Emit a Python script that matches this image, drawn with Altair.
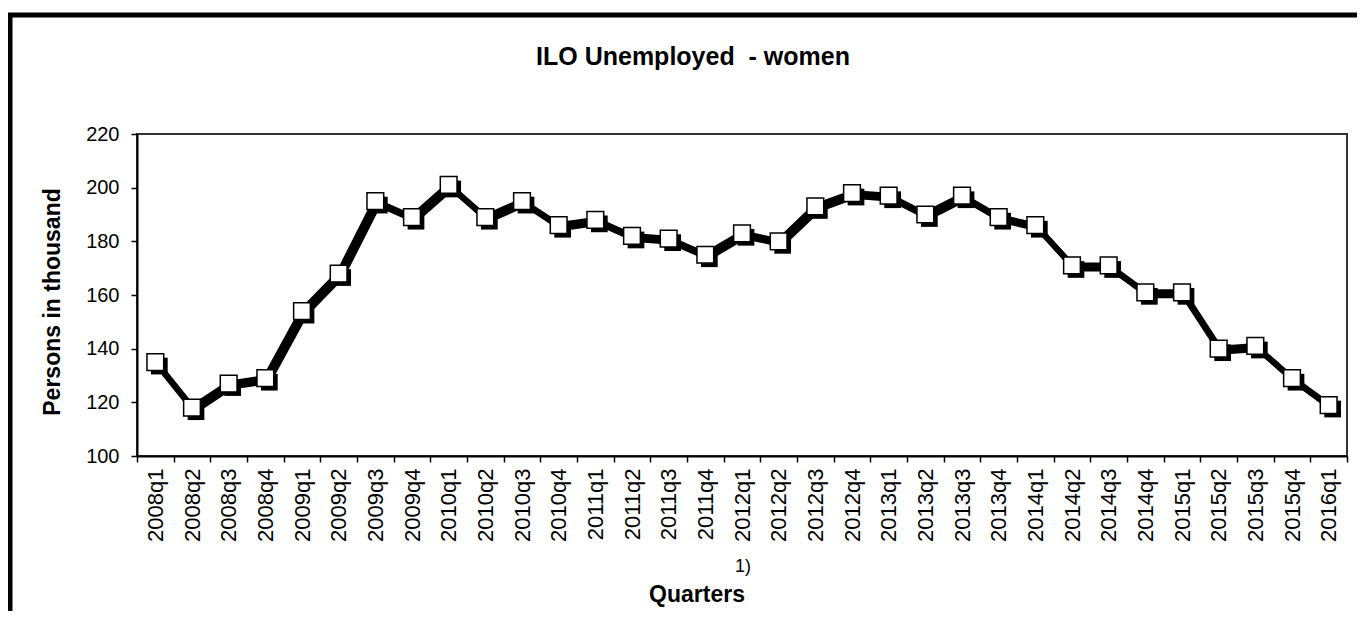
import altair as alt
import pandas as pd

quarters = [
    "2008q1", "2008q2", "2008q3", "2008q4",
    "2009q1", "2009q2", "2009q3", "2009q4",
    "2010q1", "2010q2", "2010q3", "2010q4",
    "2011q1", "2011q2", "2011q3", "2011q4",
    "2012q1", "2012q2", "2012q3", "2012q4",
    "2013q1", "2013q2", "2013q3", "2013q4",
    "2014q1", "2014q2", "2014q3", "2014q4",
    "2015q1", "2015q2", "2015q3", "2015q4",
    "2016q1",
]
unemployed = [
    135, 118, 127, 129,
    154, 168, 195, 189,
    201, 189, 195, 186,
    188, 182, 181, 175,
    183, 180, 193, 198,
    197, 190, 197, 189,
    186, 171, 171, 161,
    161, 140, 141, 129,
    119,
]
y_ticks = [100, 120, 140, 160, 180, 200, 220]

title_text = "ILO Unemployed\u00a0 - women"
y_title = "Persons in thousand"
x_title = "Quarters"
footnote = "1)"

df = pd.DataFrame({"quarter": quarters, "value": unemployed})

FONT = "Liberation Sans"
W, H = 1210, 322

x_enc = alt.X(
    "quarter:N",
    sort=quarters,
    scale=alt.Scale(type="band", paddingInner=0, paddingOuter=0),
    axis=alt.Axis(
        title=None,
        tickBand="extent",
        labelAngle=270,
        labelFont=FONT,
        labelFontSize=22,
        labelColor="black",
        labelPadding=6,
        tickSize=6,
        tickColor="black",
        tickWidth=1.5,
        domainColor="black",
        domainWidth=2,
        grid=False,
    ),
)
y_enc = alt.Y(
    "value:Q",
    scale=alt.Scale(domain=[100, 220], nice=False, zero=False),
    axis=alt.Axis(
        title=None,
        values=y_ticks,
        labelFont=FONT,
        labelFontSize=20,
        labelColor="black",
        labelPadding=12,
        tickSize=6,
        tickColor="black",
        tickWidth=1.5,
        domainColor="black",
        domainWidth=2,
        grid=False,
    ),
)

base = alt.Chart(df).encode(x=x_enc, y=y_enc)

line_shadow = base.mark_line(color="black", strokeWidth=6, xOffset=3, yOffset=3)
line_main = base.mark_line(color="black", strokeWidth=6)
sq_shadow = base.mark_square(size=280, color="black", filled=True, opacity=1, xOffset=4, yOffset=4)
sq_main = base.mark_square(size=280, fill="white", stroke="black", strokeWidth=1.5, filled=True, opacity=1)

one = pd.DataFrame({"k": [0]})
frame = alt.Chart(one).mark_rect(fill=None, stroke="black", strokeWidth=5).encode(
    x=alt.value(-127), x2=alt.value(1500), y=alt.value(-119), y2=alt.value(800)
)

def label(text, x, y, size, bold=False, angle=0):
    return alt.Chart(pd.DataFrame({"t": [text]})).mark_text(
        font=FONT, fontSize=size, fontWeight="bold" if bold else "normal",
        color="black", angle=angle, align="center", baseline="middle",
    ).encode(text="t:N", x=alt.value(x), y=alt.value(y))

t_title = label(title_text, 556, -77, 25, bold=True)
t_ytitle = label(y_title, -84, 168, 23, bold=True, angle=270)
t_xtitle = label(x_title, 560, 461, 23, bold=True)
t_foot = label(footnote, 606, 433, 18)

chart = alt.layer(
    frame, line_shadow, line_main, sq_shadow, sq_main, t_title, t_ytitle, t_xtitle, t_foot
).properties(
    width=W, height=H,
    autosize=alt.AutoSizeParams(type="none"),
    padding={"left": 129, "top": 126, "right": 10, "bottom": 155},
    background="white",
).configure_view(
    stroke="#333333", strokeWidth=2
)

chart.save("out.html", embed_options={"renderer": "svg", "actions": False})
